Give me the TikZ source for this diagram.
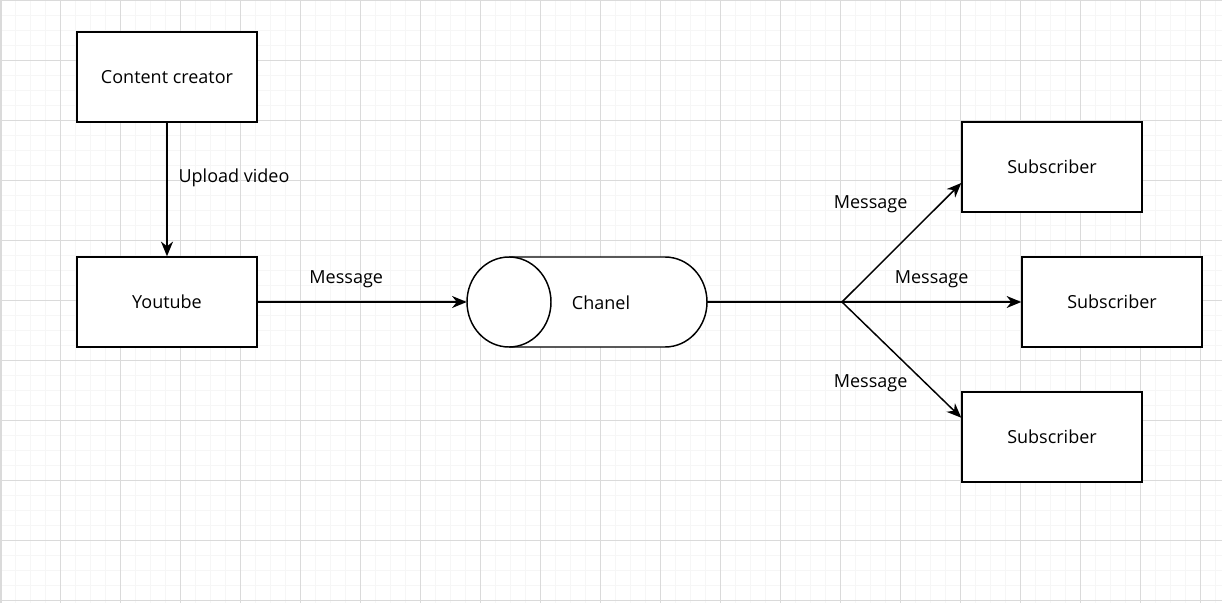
\documentclass[tikz,border=0pt]{standalone}
\usepackage{fontspec}
\setmainfont{Open Sans}
\usetikzlibrary{arrows.meta}

\definecolor{minorgray}{HTML}{F6F6F6}
\definecolor{majorgray}{HTML}{DADADA}

\begin{document}
\begin{tikzpicture}[x=0.75pt, y=0.75pt,
    box/.style={draw, line width=1.1pt, fill=white, minimum width=135pt, minimum height=67.5pt, inner sep=0pt, text depth=0.5pt, font=\fontsize{13.5}{16}\selectfont},
    arr/.style={line width=1.1pt, -{Stealth[length=11pt, width=9pt, inset=3.5pt]}},
    msg/.style={font=\fontsize{13.5}{16}\selectfont, inner sep=0pt}]
    % Background grid
    \useasboundingbox (0,-603) rectangle (1222,0);
    \fill[white] (0,-603) rectangle (1222,0);
    \draw[minorgray, line width=0.75pt] (0,-603) grid[step=15] (1222,0);
    \draw[majorgray, line width=0.75pt] (0,-603) grid[step=60] (1222,0);
    \draw[majorgray, line width=1.5pt] (1,-603) -- (1,0);

    % Boxes
    \node[box] (creator) at (167,-77) {Content creator};
    \node[box] (youtube) at (167,-302) {Youtube};
    \node[box] (sub1) at (1052,-167) {Subscriber};
    \node[box] (sub2) at (1112,-302) {Subscriber};
    \node[box] (sub3) at (1052,-437) {Subscriber};

    % Channel cylinder
    \node[minimum width=180pt, minimum height=67.5pt, inner sep=0pt] (chanel) at (587,-302) {};
    \filldraw[fill=white, line width=1.1pt] (509,-257) -- (665,-257)
        arc[start angle=90, end angle=-90, x radius=42, y radius=45] -- (509,-347);
    \filldraw[fill=white, line width=1.1pt] (509,-302) ellipse[x radius=42, y radius=45];
    \node[msg] (chaneltext) at (601,-303) {Chanel};
    \coordinate (split) at (842,-302);

    % Connectors
    \draw[arr] (creator) -- (youtube)
        node[msg, midway, xshift=50.25pt, yshift=8.9pt] {Upload video};
    \draw[arr] (youtube) -- (chanel.west)
        node[msg, midway, xshift=-12pt, yshift=16.75pt] {Message};
    \draw[line width=1.1pt] (chanel.east) -- (split);
    \draw[arr] (split) -- (sub1.190)
        node[msg, midway, xshift=-23.25pt, yshift=28.4pt] {Message};
    \draw[arr] (split) -- (sub2.west)
        node[msg, midway, yshift=16.75pt] {Message};
    \draw[arr] (split) -- (sub3.168)
        node[msg, midway, xshift=-23.25pt, yshift=-17.4pt] {Message};
\end{tikzpicture}
\end{document}
